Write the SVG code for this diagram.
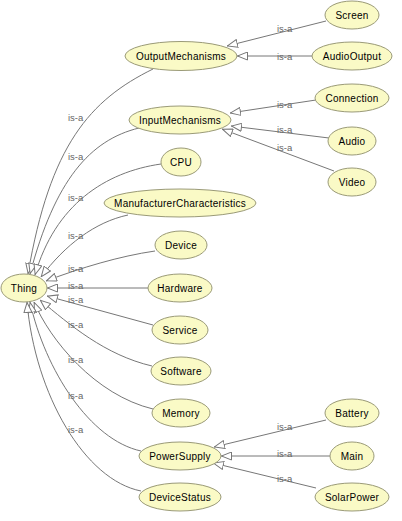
<svg xmlns="http://www.w3.org/2000/svg" width="402" height="521" viewBox="0 0 402 521">
<style>
.n ellipse{fill:#FAFAC6;stroke:#9A9A78;stroke-width:1}
.n text{font-family:"Liberation Sans",Arial,sans-serif;font-size:10px;letter-spacing:0.25px;fill:#000;text-anchor:middle}
#edges path{fill:none;stroke:#777;stroke-width:1;marker-end:url(#tri)}
#edges text{font-family:"Liberation Sans",Arial,sans-serif;font-size:9.5px;fill:#666}
</style>
<defs>
<marker id="tri" viewBox="0 0 11 9" refX="11" refY="4.5" markerWidth="11" markerHeight="9" orient="auto" markerUnits="userSpaceOnUse">
<path d="M0.5,0.5 L10.5,4.5 L0.5,8.5 Z" fill="#fff" stroke="#777" stroke-width="1"/>
</marker>
</defs>
<rect width="402" height="521" fill="#fff"/>
<g id="edges">
<path d="M326,21 L227,46"/>
<path d="M312,56 L237,56"/>
<path d="M316,100 L230,113"/>
<path d="M329,138 L231,126"/>
<path d="M334,171 L222,129"/>
<path d="M326,420 L214,447"/>
<path d="M330,456 L221,456"/>
<path d="M316,488 L213,463"/>
<path d="M153,69 C90,100 50,145 28,274"/>
<path d="M139,128 C90,140 55,180 30,274"/>
<path d="M161,164 C105,172 55,205 35,275"/>
<path d="M128,215 C95,222 65,245 41,277"/>
<path d="M155,251 C120,256 80,268 46,281"/>
<path d="M148,288 L47,288"/>
<path d="M153,325 L47,296"/>
<path d="M152,366 C105,355 70,325 40,300"/>
<path d="M153,409 C95,395 50,340 34,302"/>
<path d="M141,451 C90,440 45,370 30,302"/>
<path d="M141,491 C85,480 35,395 27,302"/>
<text x="277" y="32">is-a</text>
<text x="277" y="60">is-a</text>
<text x="277" y="108">is-a</text>
<text x="277" y="133">is-a</text>
<text x="277" y="151">is-a</text>
<text x="277" y="430">is-a</text>
<text x="277" y="457">is-a</text>
<text x="277" y="482">is-a</text>
<text x="68" y="120.5">is-a</text>
<text x="68" y="160">is-a</text>
<text x="68" y="201">is-a</text>
<text x="68" y="239">is-a</text>
<text x="68" y="272">is-a</text>
<text x="68" y="289">is-a</text>
<text x="68" y="303">is-a</text>
<text x="68" y="328">is-a</text>
<text x="68" y="363">is-a</text>
<text x="68" y="399">is-a</text>
<text x="68" y="433">is-a</text>
</g>
<g id="Thing" class="n"><ellipse cx="24" cy="288" rx="23" ry="14"/><text x="24" y="291.5">Thing</text></g>
<g id="OutputMechanisms" class="n"><ellipse cx="181" cy="56" rx="56" ry="14.5"/><text x="181" y="59.5">OutputMechanisms</text></g>
<g id="Screen" class="n"><ellipse cx="352" cy="15" rx="27" ry="14"/><text x="352" y="18.5">Screen</text></g>
<g id="AudioOutput" class="n"><ellipse cx="352" cy="56" rx="40" ry="14"/><text x="352" y="59.5">AudioOutput</text></g>
<g id="InputMechanisms" class="n"><ellipse cx="180" cy="120" rx="51" ry="14"/><text x="180" y="123.5">InputMechanisms</text></g>
<g id="Connection" class="n"><ellipse cx="352" cy="98" rx="37" ry="14"/><text x="352" y="101.5">Connection</text></g>
<g id="Audio" class="n"><ellipse cx="352" cy="141" rx="24" ry="14"/><text x="352" y="144.5">Audio</text></g>
<g id="Video" class="n"><ellipse cx="352" cy="182" rx="24" ry="14"/><text x="352" y="185.5">Video</text></g>
<g id="CPU" class="n"><ellipse cx="181" cy="162" rx="20" ry="14"/><text x="181" y="165.5">CPU</text></g>
<g id="ManufacturerCharacteristics" class="n"><ellipse cx="180" cy="203" rx="76" ry="14"/><text x="180" y="206.5">ManufacturerCharacteristics</text></g>
<g id="Device" class="n"><ellipse cx="181" cy="245" rx="26" ry="14"/><text x="181" y="248.5">Device</text></g>
<g id="Hardware" class="n"><ellipse cx="180" cy="288" rx="32" ry="14"/><text x="180" y="291.5">Hardware</text></g>
<g id="Service" class="n"><ellipse cx="180" cy="330" rx="28" ry="14"/><text x="180" y="333.5">Service</text></g>
<g id="Software" class="n"><ellipse cx="181" cy="371" rx="30" ry="14"/><text x="181" y="374.5">Software</text></g>
<g id="Memory" class="n"><ellipse cx="181" cy="413" rx="29" ry="14"/><text x="181" y="416.5">Memory</text></g>
<g id="PowerSupply" class="n"><ellipse cx="180" cy="456" rx="41" ry="14"/><text x="180" y="459.5">PowerSupply</text></g>
<g id="DeviceStatus" class="n"><ellipse cx="180" cy="497" rx="41" ry="14"/><text x="180" y="500.5">DeviceStatus</text></g>
<g id="Battery" class="n"><ellipse cx="352" cy="413" rx="27" ry="14"/><text x="352" y="416.5">Battery</text></g>
<g id="Main" class="n"><ellipse cx="352" cy="456" rx="22" ry="14"/><text x="352" y="459.5">Main</text></g>
<g id="SolarPower" class="n"><ellipse cx="352" cy="497" rx="37" ry="14"/><text x="352" y="500.5">SolarPower</text></g>
</svg>
